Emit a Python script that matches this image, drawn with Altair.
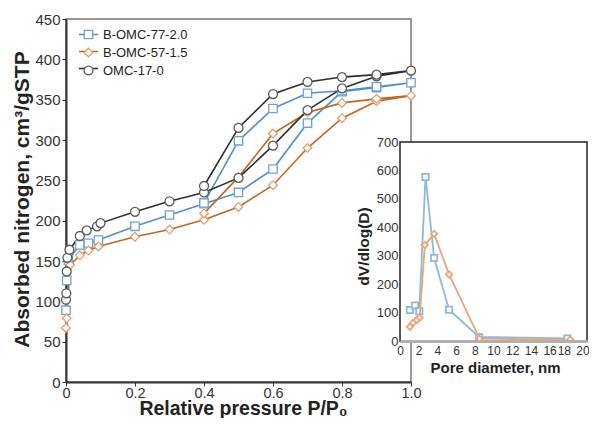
import altair as alt
import pandas as pd

# ---------------- data ----------------
series = ["B-OMC-77-2.0", "B-OMC-57-1.5", "OMC-17-0"]
shapes = ["square", "diamond", "circle"]
line_colors = ["#4d8fcf", "#c2651f", "#2e2e2e"]
marker_colors = ["#6da3d6", "#e0a070", "#5a5a5a"]
marker_sizes = [70, 80, 110]

# N2 isotherms (relative pressure, adsorbed volume)
b77_ads_p = [0, 0.002, 0.007, 0.04, 0.065, 0.094, 0.2, 0.3, 0.4, 0.5, 0.6, 0.7, 0.8, 0.9, 1.0]
b77_ads_v = [89, 126, 151, 170, 172, 176, 193, 207, 221, 235, 264, 321, 360, 365, 371]
b77_des_p = [0.9, 0.8, 0.7, 0.6, 0.5, 0.4]
b77_des_v = [366, 361, 358, 339, 299, 222]

b57_ads_p = [0, 0.002, 0.012, 0.04, 0.065, 0.094, 0.2, 0.3, 0.4, 0.5, 0.6, 0.7, 0.8, 0.9, 1.0]
b57_ads_v = [67, 79, 145, 157, 163, 168, 180, 189, 201, 217, 244, 290, 327, 348, 355]
b57_des_p = [0.9, 0.8, 0.7, 0.6, 0.5, 0.4]
b57_des_v = [351, 346, 334, 308, 254, 209]

omc_ads_p = [0, 0.001, 0.002, 0.004, 0.01, 0.04, 0.06, 0.09, 0.1, 0.2, 0.3, 0.4, 0.5, 0.6, 0.7, 0.8, 0.9, 1.0]
omc_ads_v = [102, 110, 137, 154, 164, 181, 188, 193, 197, 211, 224, 235, 253, 293, 337, 364, 379, 386]
omc_des_p = [0.9, 0.8, 0.7, 0.6, 0.5, 0.4]
omc_des_v = [381, 378, 372, 357, 315, 243]

x_ticks = [0, 0.2, 0.4, 0.6, 0.8, 1.0]
y_ticks = [0, 50, 100, 150, 200, 250, 300, 350, 400, 450]

# Pore size distribution (inset)
inset_series = ["B-OMC-77-2.0", "B-OMC-57-1.5"]
inset_colors = ["#8db8e0", "#eba57a"]
inset_shapes = ["square", "diamond"]
pore_b77_d = [1.06, 1.6, 2.06, 2.73, 3.65, 5.25, 8.45, 17.9]
pore_b77_v = [109, 125, 105, 577, 292, 110, 14, 9]
pore_b57_d = [1.06, 1.4, 1.8, 2.1, 2.66, 3.65, 5.25, 8.5, 18.2]
pore_b57_v = [50, 64, 74, 82, 338, 377, 234, 8, 5]
inset_x_ticks = list(range(0, 21, 2))
inset_y_ticks = list(range(0, 701, 100))
inset_x_domain = [0, 20]
inset_y_domain = [0, 700]

# ---------------- tables ----------------
rows = []
for name, ap, av, dp, dv in [
    (series[0], b77_ads_p, b77_ads_v, b77_des_p, b77_des_v),
    (series[1], b57_ads_p, b57_ads_v, b57_des_p, b57_des_v),
    (series[2], omc_ads_p, omc_ads_v, omc_des_p, omc_des_v),
]:
    k = 0
    for p, v in list(zip(ap, av)) + list(zip(dp, dv)):
        rows.append({"series": name, "p": p, "v": v, "idx": k})
        k += 1
iso = pd.DataFrame(rows)

prow = []
for name, d, v in [(inset_series[0], pore_b77_d, pore_b77_v), (inset_series[1], pore_b57_d, pore_b57_v)]:
    for i, (a, b) in enumerate(zip(d, v)):
        prow.append({"series": name, "d": a, "val": b, "idx": i})
psd = pd.DataFrame(prow)
frame = pd.DataFrame({"d": [inset_x_domain[0]], "d2": [inset_x_domain[1]],
                      "val": [inset_y_domain[0]], "val2": [inset_y_domain[1]]})

FONT = "Liberation Sans"

# ---------------- main isotherm chart ----------------
x_main = alt.X("p:Q", scale=alt.Scale(domain=[0, 1], nice=False),
               axis=alt.Axis(values=x_ticks,
                             labelExpr="datum.value == 0 ? '0' : format(datum.value, '.1f')",
                             labelFontSize=14.5, labelColor="#333", labelPadding=0, labelFlush=False,
                             labelOverlap=False,
                             tickSize=4, tickColor="#333", domainColor="#333", domainWidth=2,
                             grid=False, title="Relative pressure P/P\u2080", titleFontSize=19.5,
                             titleFontWeight="bold", titleColor="#222", titleX=177, titleY=32.5,
                             titleAlign="center", titleBaseline="alphabetic"))
y_main = alt.Y("v:Q", scale=alt.Scale(domain=[0, 450], nice=False),
               axis=alt.Axis(values=y_ticks, labelFontSize=15, labelColor="#333", labelPadding=2,
                             labelFlush=False, labelOverlap=False, tickSize=4, tickColor="#333",
                             domainColor="#333", domainWidth=2, grid=False,
                             title="Absorbed nitrogen, cm\u00b3/gSTP", titleFontSize=21,
                             titleFontWeight="bold", titleColor="#222", titleX=-44, titleY=180,
                             titleAngle=-90, titleAlign="center", titleBaseline="middle"))

LX, LY = 16, 9
legend_pts = alt.Legend(orient="none", legendX=LX, legendY=LY, title=None, symbolSize=70,
                        symbolStrokeWidth=1.3, symbolFillColor="white", labelFontSize=13,
                        labelColor="#222", labelFont=FONT, rowPadding=3, labelOffset=8, zindex=2)
legend_lines = alt.Legend(orient="none", legendX=LX, legendY=LY, title=None, symbolSize=70,
                          symbolType="M-2.3,0H2.3", symbolStrokeWidth=1.5, labelFontSize=13,
                          labelOpacity=0, labelFont=FONT, rowPadding=3, labelOffset=8, zindex=1)

base = alt.Chart(iso).encode(x=x_main, y=y_main)
lines = base.mark_line(strokeWidth=1.6).encode(
    color=alt.Color("series:N", scale=alt.Scale(domain=series, range=line_colors), legend=legend_lines),
    order=alt.Order("idx:Q"),
    detail="series:N",
)
points = base.mark_point(fill="white", filled=False, strokeWidth=1.3, opacity=1).encode(
    color=alt.Color("series:N", scale=alt.Scale(domain=series, range=marker_colors), legend=legend_pts),
    shape=alt.Shape("series:N", scale=alt.Scale(domain=series, range=shapes), legend=legend_pts),
    size=alt.Size("series:N", scale=alt.Scale(domain=series, range=marker_sizes), legend=None),
)
main = alt.layer(lines, points).resolve_scale(color="independent", shape="independent",
                                              size="independent")

# ---------------- inset chart ----------------
x_in = alt.X("d:Q", scale=alt.Scale(domain=inset_x_domain, range=[334, 521], nice=False),
             axis=alt.Axis(orient="bottom", offset=-41, values=inset_x_ticks, labelFontSize=12,
                           labelColor="#333", labelPadding=4, labelFlush=False, labelOverlap=False,
                           tickSize=0,
                           labelOffset={"condition": {"test": "datum.value >= 18", "value": -4.5},
                                        "value": 0},
                           domainColor="#b0b0b0", domainWidth=3, grid=False, zindex=1,
                           title="Pore diameter, nm", titleFontSize=15, titleFontWeight="bold",
                           titleColor="#222", titleX=429, titleY=31, titleAlign="center",
                           titleBaseline="alphabetic"))
y_in = alt.Y("val:Q", scale=alt.Scale(domain=inset_y_domain, range=[322, 123], nice=False),
             axis=alt.Axis(orient="left", offset=-334, values=inset_y_ticks, labelFontSize=13,
                           labelColor="#333", labelPadding=2, labelFlush=False, labelOverlap=False,
                           tickSize=0, domain=False, grid=False, zindex=1,
                           title="dV/dlog(D)", titleFontSize=15.5, titleFontWeight="bold",
                           titleColor="#222", titleX=-37, titleY=227, titleAngle=-90,
                           titleAlign="center", titleBaseline="middle"))

inset_layers = [
    alt.Chart(frame).mark_rect(fill="white", stroke="#222", strokeWidth=1.5).encode(
        x=x_in, x2="d2:Q", y=y_in, y2="val2:Q")
]
for name, col, shp in zip(inset_series, inset_colors, inset_shapes):
    b = alt.Chart(psd).transform_filter(alt.datum.series == name).encode(x=x_in, y=y_in)
    inset_layers.append(b.mark_line(strokeWidth=1.8, color=col).encode(order=alt.Order("idx:Q")))
    inset_layers.append(b.mark_point(shape=shp, size=40, filled=False, fill="white",
                                     stroke=col, strokeWidth=1.8, opacity=1))
inset = alt.layer(*inset_layers)

chart = (
    alt.layer(main, inset)
    .resolve_scale(x="independent", y="independent")
    .properties(width=345, height=363,
                padding={"left": 58, "top": 11, "right": 178, "bottom": 36},
                autosize=alt.AutoSizeParams(type="none"))
    .configure(font=FONT)
    .configure_view(stroke="#777", strokeWidth=1.5)
)

chart.save("out.html", embed_options={"renderer": "svg", "actions": False})
